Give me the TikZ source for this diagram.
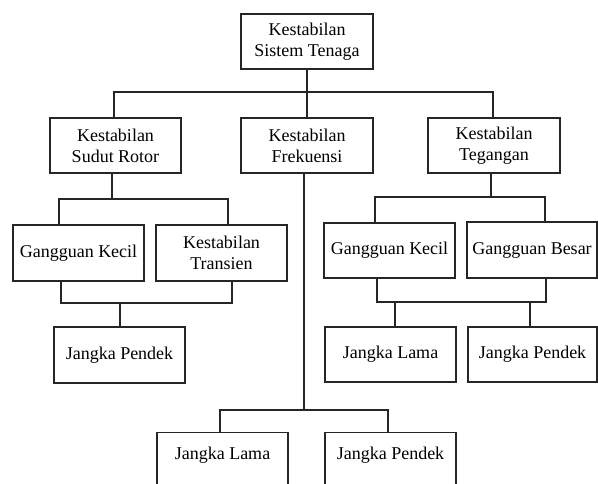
\documentclass[tikz,border=0pt]{standalone}
\usepackage{fontspec}
\setmainfont{Liberation Serif}
\begin{document}
\begin{tikzpicture}[x=1pt,y=-1pt,
  box/.style={draw=black!85, line width=1.3pt, rectangle, minimum width=131pt, minimum height=55pt, inner sep=0pt, align=center, font=\fontsize{18}{21}\selectfont},
  cut/.style={box, anchor=north, minimum height=0pt, text height=27pt, text depth=33pt},
  conn/.style={draw=black!85, line width=1.3pt}]
\useasboundingbox (0,0) rectangle (598,483);
\clip (0,0) rectangle (598,483);
% level 0
\node[box, minimum width=132pt] (top) at (307,41.5) {Kestabilan\\Sistem Tenaga};
% level 1
\node[box] (sudut) at (115.5,145.5) {Kestabilan\\Sudut Rotor};
\node[box, minimum width=132pt] (frek) at (307,145.5) {Kestabilan\\Frekuensi};
\node[box, minimum width=132pt] (teg) at (494,145.5) {Kestabilan\\Tegangan};
% level 2 left
\node[box, minimum height=56pt] (gk1) at (78.5,253) {Gangguan Kecil};
\node[box, minimum height=56pt] (trans) at (221.5,253) {Kestabilan\\Transien};
\node[box, minimum height=56pt] (jp1) at (119.5,355) {Jangka Pendek};
% level 2 right
\node[box] (gk2) at (389.5,250.5) {Gangguan Kecil};
\node[box, minimum width=130pt, minimum height=56pt] (gb) at (532,250) {Gangguan Besar};
\node[box] (jl2) at (390.5,354.5) {Jangka Lama};
\node[box, minimum width=129pt] (jp2) at (532.5,354.5) {Jangka Pendek};
% bottom (frekuensi)
\node[cut] (jl3) at (222.5,432) {Jangka Lama};
\node[cut] (jp3) at (390.5,432) {Jangka Pendek};
% junctions
\coordinate (j0) at (307,92);
\coordinate (s1) at (112,199);
\coordinate (s2) at (120,303);
\coordinate (f1) at (304,410);
\coordinate (t1) at (491,197);
\coordinate (t2) at (463,302);
% connectors
\draw[conn] (top.south) -- (frek.north);
\draw[conn] ([xshift=-1.5pt]sudut.north) |- (j0) -| ([xshift=-1pt]teg.north);
\draw[conn] ([xshift=-3.5pt]sudut.south) -- (s1);
\draw[conn] ([xshift=-19.5pt]gk1.north) |- (s1) -| ([xshift=6.5pt]trans.north);
\draw[conn] ([xshift=-17.5pt]gk1.south) |- (s2) -| ([xshift=10.5pt]trans.south);
\draw[conn] (s2) -- (s2 |- jp1.north);
\draw[conn] ([xshift=-3pt]frek.south) -- (f1);
\draw[conn] ([xshift=-2.5pt]jl3.north) |- (f1) -| ([xshift=-2.5pt]jp3.north);
\draw[conn] ([xshift=-3pt]teg.south) -- (t1);
\draw[conn] ([xshift=-14.5pt]gk2.north) |- (t1) -| ([xshift=13pt]gb.north);
\draw[conn] ([xshift=-12.5pt]gk2.south) |- (t2) -| ([xshift=14pt]gb.south);
\draw[conn] ([xshift=4.5pt]jl2.north) -- ([xshift=4.5pt]jl2.north |- t2);
\draw[conn] ([xshift=-2.5pt]jp2.north) -- ([xshift=-2.5pt]jp2.north |- t2);
\end{tikzpicture}
\end{document}
